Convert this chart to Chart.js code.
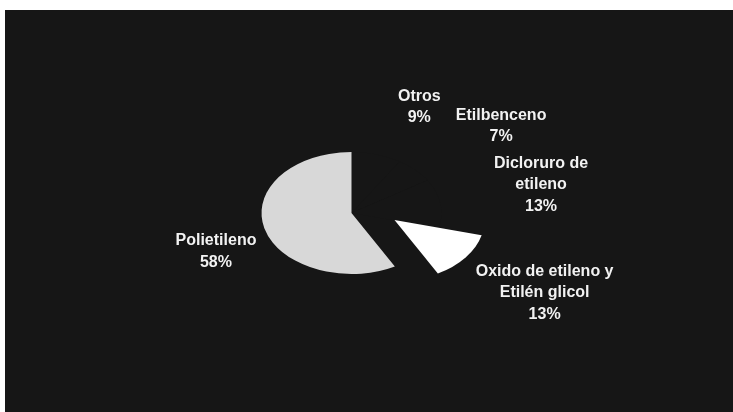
<!DOCTYPE html>
<html lang="es">
<head>
    <meta charset="UTF-8">
    <meta name="viewport" content="width=device-width, initial-scale=1.0">
    <title>Consumo de etileno por producto</title>
    <script src="https://cdn.jsdelivr.net/npm/chart.js"></script>
    <style>
        body { margin: 0; background: #ffffff; }
        #panel { position: absolute; left: 5px; top: 10px; width: 728px; height: 402px; background: #161616; }
        #consumo { position: absolute; left: 0; top: 0; }
    </style>
</head>
<body>
    <div id="panel"></div>
    <canvas id="consumo" width="733" height="412"></canvas>

    <script>
        // Productos (cada línea de la etiqueta por separado) y su porcentaje
        const categorias = [
            ['Otros'],
            ['Etilbenceno'],
            ['Dicloruro de', 'etileno'],
            ['Oxido de etileno y', 'Etilén glicol'],
            ['Polietileno']
        ];
        const porcentajes = [9, 7, 13, 13, 58];

        // Colores de las porciones (las oscuras se funden con el fondo)
        const colores = ['#161616', '#161616', '#161616', '#ffffff', '#d8d8d8'];

        // Porción separada del centro: desplazamiento en pantalla (x, y)
        const separacion = [null, null, null, [43, 7], null];

        // Colocación de etiquetas: distancia al centro y giro respecto a la bisectriz
        const distEtiqueta = [170, 197, 194, 226, 147];
        const giroEtiqueta = [7.3, 4.4, -3.3, -6.5, -8.4];

        // Aplastamiento vertical para simular el pastel en perspectiva
        const inclinacion = 0.678;

        const pastel3d = {
            id: 'pastel3d',
            afterUpdate(chart) {
                chart.getDatasetMeta(0).data.forEach((arc, i) => {
                    const s = separacion[i];
                    if (!s || arc._separada) return;
                    const dibujar = arc.draw;
                    arc.draw = function (ctx, area) {
                        ctx.save();
                        // dentro del contexto aplastado, compensar la y
                        ctx.translate(s[0], s[1] / inclinacion);
                        dibujar.call(this, ctx, area);
                        ctx.restore();
                    };
                    arc._separada = true;
                });
            },
            beforeDatasetsDraw(chart) {
                const arc = chart.getDatasetMeta(0).data[0];
                const ctx = chart.ctx;
                ctx.save();
                ctx.translate(arc.x, arc.y);
                ctx.scale(1, inclinacion);
                ctx.translate(-arc.x, -arc.y);
            },
            afterDatasetsDraw(chart) {
                const ctx = chart.ctx;
                ctx.restore();

                const arcos = chart.getDatasetMeta(0).data;
                const alto = 21.5;
                ctx.save();
                ctx.font = 'bold 16px "Liberation Sans", Arial, sans-serif';
                ctx.fillStyle = '#f2f2f2';
                ctx.textAlign = 'center';
                ctx.textBaseline = 'middle';
                arcos.forEach((arc, i) => {
                    const medio = (arc.startAngle + arc.endAngle) / 2 + giroEtiqueta[i] * Math.PI / 180;
                    const x = arc.x + Math.cos(medio) * distEtiqueta[i];
                    const y = arc.y + Math.sin(medio) * distEtiqueta[i] * inclinacion;
                    const lineas = categorias[i].concat(porcentajes[i] + '%');
                    const y0 = y - (lineas.length - 1) * alto / 2;
                    lineas.forEach((t, j) => ctx.fillText(t, x, y0 + j * alto));
                });
                ctx.restore();
            }
        };

        new Chart(document.getElementById('consumo'), {
            type: 'pie',
            data: {
                labels: categorias.map(c => c.join(' ')),
                datasets: [{
                    data: porcentajes,
                    backgroundColor: colores,
                    borderWidth: 0,
                    radius: 90
                }]
            },
            options: {
                responsive: false,
                animation: false,
                events: [],
                layout: {
                    padding: { left: 0, right: 30, top: 14, bottom: 0 }
                },
                plugins: {
                    legend: { display: false },
                    tooltip: { enabled: false }
                }
            },
            plugins: [pastel3d]
        });
    </script>
</body>
</html>
